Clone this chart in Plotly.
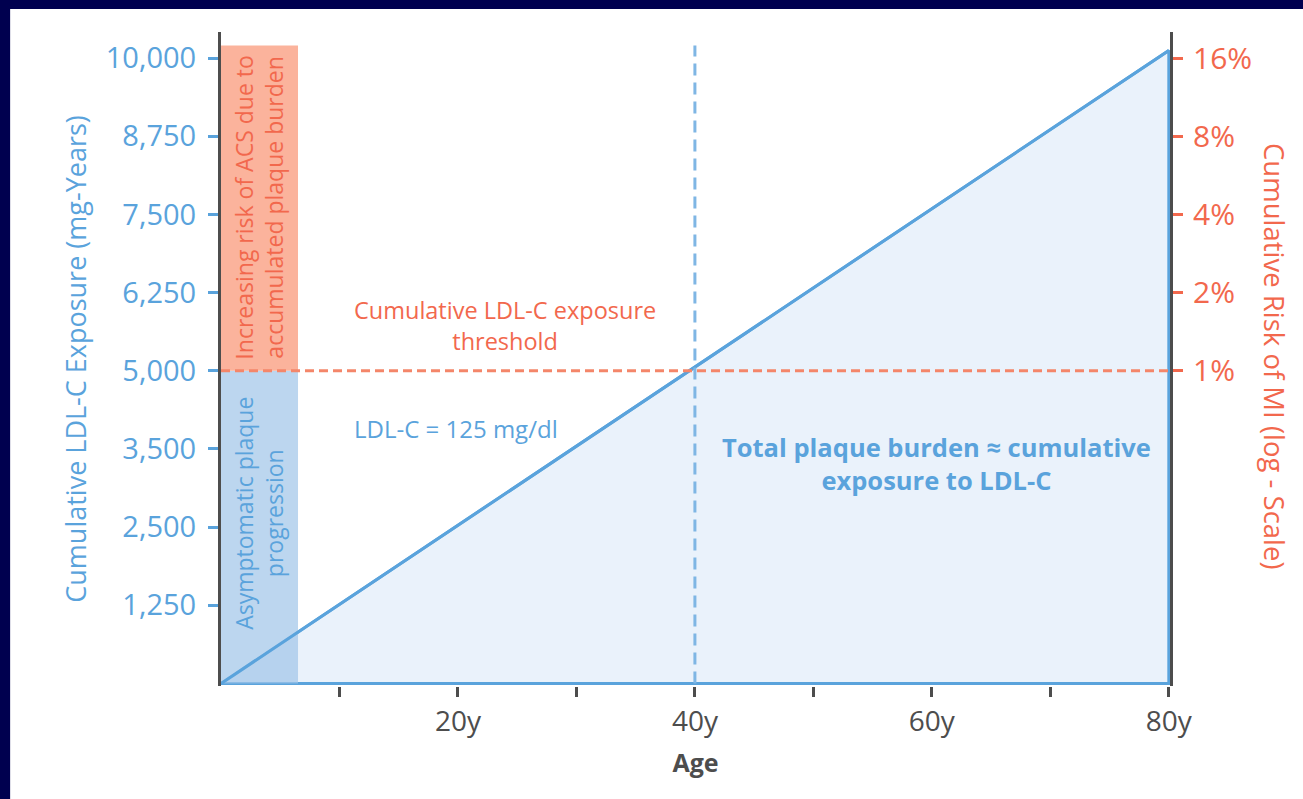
import plotly.graph_objects as go

# ---- data ----
ages = [0, 80]
exposure = [0, 10120]                      # cumulative LDL-C exposure line (mg-years)
threshold = 5000                           # cumulative exposure threshold
zone_age_end = 6.5                         # width of the left risk band (years)
zone_top = 10200                           # top of the risk band
marker_age = 40                            # age where threshold is crossed
y_tick_vals = [1250, 2500, 3750, 5000, 6250, 7500, 8750, 10000]
y_tick_text = ["1,250", "2,500", "3,500", "5,000", "6,250", "7,500", "8,750", "10,000"]
risk_tick_vals = [5000, 6250, 7500, 8750, 10000]
risk_tick_text = ["1%", "2%", "4%", "8%", "16%"]
x_tick_vals = [10, 20, 30, 40, 50, 60, 70, 80]
x_tick_text = ["", "20y", "", "40y", "", "60y", "", "80y"]

BLUE = "#5aa3dc"
ORANGE = "#f2684d"
GREY = "#4d4d4d"
FONT = "Open Sans"

X_RANGE = [0, 80.1]
Y_RANGE = [-40, 10416]

fig = go.Figure()

# triangle of total plaque burden
fig.add_trace(go.Scatter(
    x=[ages[0], ages[1], ages[1], ages[0]],
    y=[exposure[0], exposure[1], 0, 0],
    mode="lines", fill="toself", fillcolor="#eaf2fb",
    line=dict(color=BLUE, width=3), hoverinfo="skip", showlegend=False))

# blue asymptomatic band
fig.add_trace(go.Scatter(
    x=[0, zone_age_end, zone_age_end, 0, 0],
    y=[0, 0, threshold, threshold, 0],
    mode="lines", fill="toself", fillcolor="rgba(160,196,232,0.7)",
    line=dict(width=0), hoverinfo="skip", showlegend=False))

# orange risk band
fig.add_trace(go.Scatter(
    x=[0, zone_age_end, zone_age_end, 0, 0],
    y=[threshold, threshold, zone_top, zone_top, threshold],
    mode="lines", fill="toself", fillcolor="#fbb39c",
    line=dict(width=0), hoverinfo="skip", showlegend=False))

# exposure line redrawn on top
fig.add_trace(go.Scatter(
    x=ages, y=exposure, mode="lines",
    line=dict(color=BLUE, width=3), hoverinfo="skip", showlegend=False))

# threshold dashed line
fig.add_trace(go.Scatter(
    x=[0, ages[1]], y=[threshold, threshold], mode="lines",
    line=dict(color="#f4866a", width=3, dash="9px,5px"),
    hoverinfo="skip", showlegend=False))

# vertical dashed line at 40y
fig.add_trace(go.Scatter(
    x=[marker_age, marker_age], y=[0, zone_top], mode="lines",
    line=dict(color="#7fb6e4", width=3, dash="12px,7px"),
    hoverinfo="skip", showlegend=False))

# dummy trace on right axis
fig.add_trace(go.Scatter(x=[None], y=[None], yaxis="y2", showlegend=False))

ann = []
ann.append(dict(x=24.0, y=5730, xref="x", yref="y",
                text="Cumulative LDL-C exposure<br>threshold", showarrow=False,
                font=dict(family=FONT, size=23.5, color=ORANGE), align="center"))
ann.append(dict(x=11.05, y=4080, xref="x", yref="y", xanchor="left",
                text="LDL-C = 125 mg/dl", showarrow=False,
                font=dict(family=FONT, size=24, color=BLUE)))
ann.append(dict(x=60.4, y=3520, xref="x", yref="y",
                text="<b>Total plaque burden ≈ cumulative<br>exposure to LDL-C</b>", showarrow=False,
                font=dict(family=FONT, size=25.5, color=BLUE), align="center"))
ann.append(dict(x=zone_age_end / 2, y=(threshold + zone_top) / 2, xref="x", yref="y",
                text="Increasing risk of ACS due to<br>accumulated plaque burden", showarrow=False,
                textangle=-90, font=dict(family=FONT, size=23, color=ORANGE), align="center"))
ann.append(dict(x=zone_age_end / 2, y=2720, xref="x", yref="y",
                text="Asymptomatic plaque<br>progression", showarrow=False,
                textangle=-90, font=dict(family=FONT, size=23, color=BLUE), align="center"))
# right axis title reads top-to-bottom
ann.append(dict(x=1.110, y=0.504, xref="paper", yref="paper", xanchor="center",
                text="Cumulative Risk of MI (log - Scale)", showarrow=False,
                textangle=90, font=dict(family=FONT, size=27.5, color=ORANGE)))

# white card over navy frame
shapes = [dict(type="rect", xref="paper", yref="paper",
               x0=-0.2222, x1=1.2, y0=-0.3, y1=1.0352,
               fillcolor="white", line=dict(width=0), layer="below")]

fig.update_layout(
    width=1303, height=799,
    margin=dict(l=221, r=133, t=32, b=113),
    paper_bgcolor="#00004f", plot_bgcolor="white",
    font=dict(family=FONT),
    annotations=ann, shapes=shapes,
    xaxis=dict(range=X_RANGE, showgrid=False, zeroline=False,
               showline=False, tickmode="array", tickvals=x_tick_vals, ticktext=x_tick_text,
               ticks="outside", ticklen=10, tickwidth=3, tickcolor=GREY,
               tickfont=dict(family=FONT, size=28, color=GREY),
               title=dict(text="<b>Age</b>", font=dict(family=FONT, size=25, color=GREY), standoff=16)),
    yaxis=dict(range=Y_RANGE, showgrid=False, zeroline=False,
               showline=True, linecolor=GREY, linewidth=3,
               tickmode="array", tickvals=y_tick_vals, ticktext=y_tick_text,
               ticks="outside", ticklen=10, tickwidth=3, tickcolor=BLUE,
               ticklabelstandoff=6,
               tickfont=dict(family=FONT, size=29, color=BLUE),
               title=dict(text="Cumulative LDL-C Exposure (mg-Years)",
                          font=dict(family=FONT, size=27, color=BLUE), standoff=12)),
    yaxis2=dict(range=Y_RANGE, overlaying="y", side="right", showgrid=False, zeroline=False,
                showline=True, linecolor=GREY, linewidth=3, layer="below traces",
                tickmode="array", tickvals=risk_tick_vals, ticktext=risk_tick_text,
                ticks="outside", ticklen=10, tickwidth=3, tickcolor=ORANGE,
                ticklabelstandoff=4,
                tickfont=dict(family=FONT, size=30, color=ORANGE)),
)

fig.write_html("out.html", config={"displayModeBar": False},
               post_script="document.body.style.margin='0';")
